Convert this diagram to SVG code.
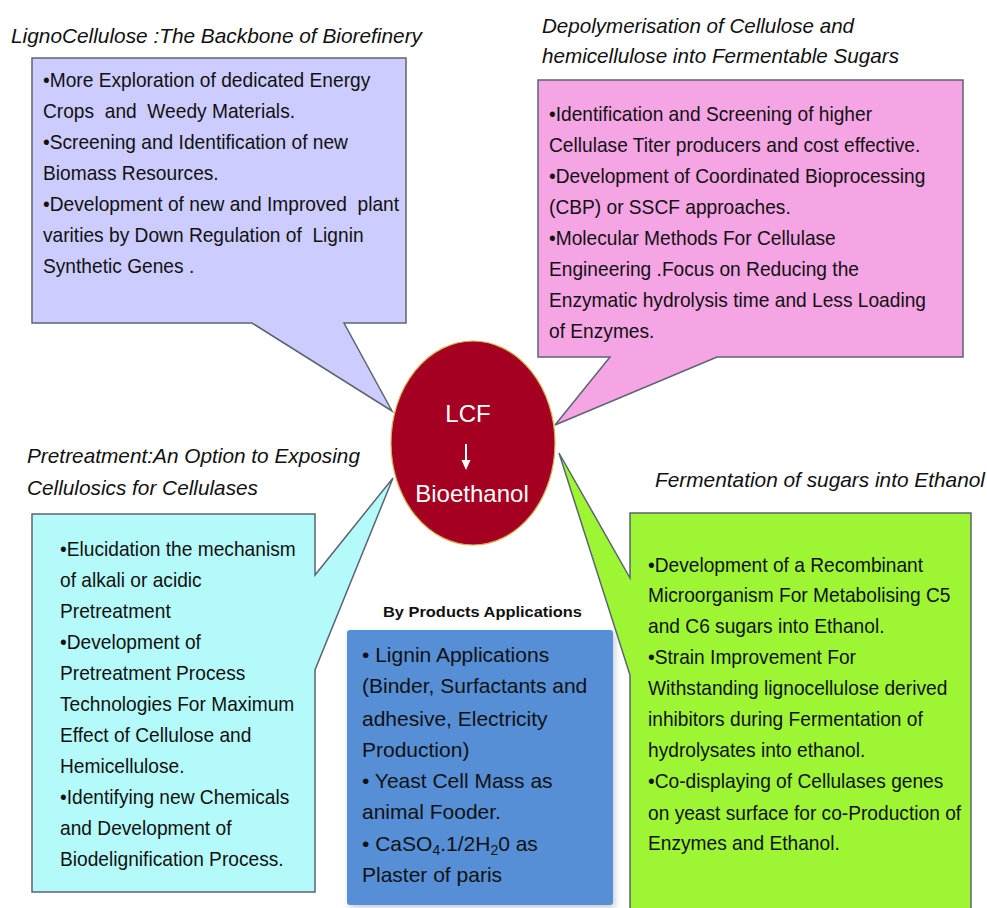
<svg xmlns="http://www.w3.org/2000/svg" width="987" height="908" viewBox="0 0 987 908">
  <style>
    .box { stroke: #5c6470; stroke-width: 1.5; stroke-linejoin: miter; }
    .title { font-family: "Liberation Sans", Arial, sans-serif; font-style: italic; font-size: 21px; fill: #111; }
    .body { font-family: "Liberation Sans", Arial, sans-serif; font-size: 21px; fill: #111; white-space: pre; }
    .byp { font-family: "Liberation Sans", Arial, sans-serif; font-size: 21px; fill: #111; }
    .center { font-family: "Liberation Sans", Arial, sans-serif; font-size: 24px; fill: #fff; text-anchor: middle; }
  </style>
  <defs>
    <filter id="soft" x="-10%" y="-10%" width="130%" height="130%">
      <feGaussianBlur stdDeviation="3"/>
    </filter>
  </defs>
  <rect width="987" height="908" fill="#fff"/>

  <!-- Lignocellulose callout -->
  <g id="node-lignocellulose">
    <text class="title" x="11" y="43" textLength="411" lengthAdjust="spacingAndGlyphs">LignoCellulose :The Backbone of Biorefinery</text>
    <path class="box" fill="#ccccff" d="M32,58 H406 V323 H344 L392,411 L252,323 H32 Z"/>
    <g transform="translate(43,0) scale(0.913,1)">
      <text class="body" x="0" y="87">•More Exploration of dedicated Energy</text>
      <text class="body" x="0" y="118">Crops  and  Weedy Materials.</text>
      <text class="body" x="0" y="149">•Screening and Identification of new</text>
      <text class="body" x="0" y="180">Biomass Resources.</text>
      <text class="body" x="0" y="211">•Development of new and Improved  plant</text>
      <text class="body" x="0" y="242">varities by Down Regulation of  Lignin</text>
      <text class="body" x="0" y="273">Synthetic Genes .</text>
    </g>
  </g>

  <!-- Depolymerisation callout -->
  <g id="node-depolymerisation">
    <text class="title" x="542" y="33" textLength="312" lengthAdjust="spacingAndGlyphs">Depolymerisation of Cellulose and</text>
    <text class="title" x="542" y="63" textLength="357" lengthAdjust="spacingAndGlyphs">hemicellulose into Fermentable Sugars</text>
    <path class="box" fill="#f5a4e4" d="M538,80 H963 V357 H717 L555,425 L610,357 H538 Z"/>
    <g transform="translate(549,0) scale(0.913,1)">
      <text class="body" x="0" y="121">•Identification and Screening of higher</text>
      <text class="body" x="0" y="152">Cellulase Titer producers and cost effective.</text>
      <text class="body" x="0" y="183">•Development of Coordinated Bioprocessing</text>
      <text class="body" x="0" y="214">(CBP) or SSCF approaches.</text>
      <text class="body" x="0" y="245">•Molecular Methods For Cellulase</text>
      <text class="body" x="0" y="276">Engineering .Focus on Reducing the</text>
      <text class="body" x="0" y="307">Enzymatic hydrolysis time and Less Loading</text>
      <text class="body" x="0" y="338">of Enzymes.</text>
    </g>
  </g>

  <!-- Pretreatment callout -->
  <g id="node-pretreatment">
    <text class="title" x="27" y="463" textLength="333" lengthAdjust="spacingAndGlyphs">Pretreatment:An Option to Exposing</text>
    <text class="title" x="27" y="495" textLength="231" lengthAdjust="spacingAndGlyphs">Cellulosics for Cellulases</text>
    <path class="box" fill="#b5fafa" d="M32,514 H315 V575 L393,478 L315,670 V892 H32 Z"/>
    <g transform="translate(60,0) scale(0.913,1)">
      <text class="body" x="0" y="556">•Elucidation the mechanism</text>
      <text class="body" x="0" y="587">of alkali or acidic</text>
      <text class="body" x="0" y="618">Pretreatment</text>
      <text class="body" x="0" y="649">•Development of</text>
      <text class="body" x="0" y="680">Pretreatment Process</text>
      <text class="body" x="0" y="711">Technologies For Maximum</text>
      <text class="body" x="0" y="742">Effect of Cellulose and</text>
      <text class="body" x="0" y="773">Hemicellulose.</text>
      <text class="body" x="0" y="804">•Identifying new Chemicals</text>
      <text class="body" x="0" y="835">and Development of</text>
      <text class="body" x="0" y="866">Biodelignification Process.</text>
    </g>
  </g>

  <!-- Fermentation callout -->
  <g id="node-fermentation">
    <text class="title" x="655" y="487" textLength="330" lengthAdjust="spacingAndGlyphs">Fermentation of sugars into Ethanol</text>
    <path class="box" fill="#9ef534" d="M630,513 H971 V914 H630 V675 L559,453 L630,578 Z"/>
    <g transform="translate(648,0) scale(0.913,1)">
      <text class="body" x="0" y="572">•Development of a Recombinant</text>
      <text class="body" x="0" y="602">Microorganism For Metabolising C5</text>
      <text class="body" x="0" y="633">and C6 sugars into Ethanol.</text>
      <text class="body" x="0" y="664">•Strain Improvement For</text>
      <text class="body" x="0" y="695">Withstanding lignocellulose derived</text>
      <text class="body" x="0" y="726">inhibitors during Fermentation of</text>
      <text class="body" x="0" y="757">hydrolysates into ethanol.</text>
      <text class="body" x="0" y="788">•Co-displaying of Cellulases genes</text>
      <text class="body" x="0" y="820">on yeast surface for co-Production of</text>
      <text class="body" x="0" y="850">Enzymes and Ethanol.</text>
    </g>
  </g>

  <!-- By-products box -->
  <g id="node-byproducts">
    <text class="byp" x="383" y="617" font-weight="bold" textLength="199" lengthAdjust="spacingAndGlyphs" style="font-size:15px">By Products Applications</text>
    <rect x="349" y="633" width="266" height="275" rx="3" fill="#8a9ab0" opacity="0.5" filter="url(#soft)"/>
    <rect x="347" y="630" width="266" height="275" rx="3" fill="#568fd6"/>
    <text class="byp" x="362" y="662">• Lignin Applications</text>
    <text class="byp" x="362" y="693">(Binder, Surfactants and</text>
    <text class="byp" x="362" y="726">adhesive, Electricity</text>
    <text class="byp" x="362" y="757">Production)</text>
    <text class="byp" x="362" y="788">• Yeast Cell Mass as</text>
    <text class="byp" x="362" y="819">animal Fooder.</text>
    <text class="byp" x="362" y="851">• CaSO<tspan font-size="14" dy="4">4</tspan><tspan dy="-4">.1/2H</tspan><tspan font-size="14" dy="4">2</tspan><tspan dy="-4">0 as</tspan></text>
    <text class="byp" x="362" y="882">Plaster of paris</text>
  </g>

  <!-- Central LCF node -->
  <g id="node-lcf">
    <ellipse cx="473" cy="443" rx="82" ry="102" fill="#a50021" stroke="#d2b45a" stroke-width="1.2"/>
    <text class="center" x="468" y="422">LCF</text>
    <text class="center" x="472" y="502">Bioethanol</text>
  </g>

  <!-- Arrow from LCF down to Bioethanol -->
  <g id="connectors">
    <line x1="466" y1="444" x2="466" y2="462" stroke="#fff" stroke-width="2"/>
    <polygon points="461.5,460 470.5,460 466,470" fill="#fff"/>
  </g>
</svg>
